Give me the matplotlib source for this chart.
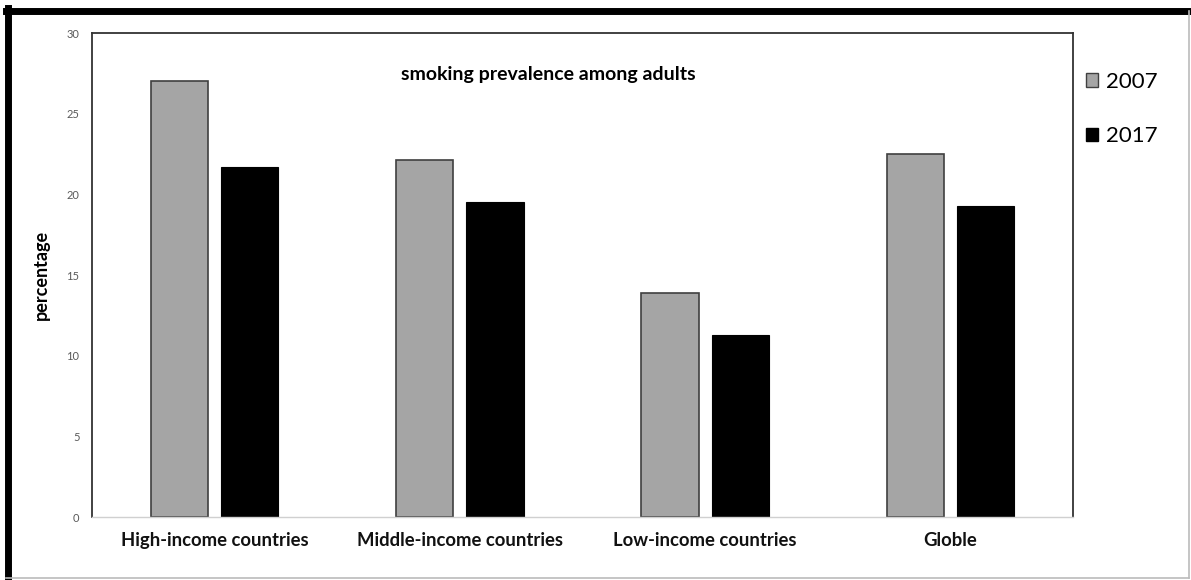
import matplotlib
matplotlib.use("Agg")
import matplotlib.pyplot as plt
import matplotlib.transforms as mtransforms
import numpy as np
from matplotlib.lines import Line2D
from matplotlib.patches import Patch

categories = ["High-income countries", "Middle-income countries", "Low-income countries", "Globle"]
series_names = ["2007", "2017"]
values_2007 = [27.0, 22.1, 13.9, 22.5]
values_2017 = [21.7, 19.5, 11.3, 19.3]
yticks = [0, 5, 10, 15, 20, 25, 30]

plt.rcParams['font.family'] = ['Lato', 'DejaVu Sans']

fig = plt.figure(figsize=(11.91, 5.80), dpi=100)
ax = fig.add_axes([92/1191, 1-517/580, (1073-92)/1191, (517-33)/580])

x = np.arange(len(categories))
w = 0.233
off = 0.143
ax.bar(x - off, values_2007, width=w, color="#a5a5a5", edgecolor="#404040", linewidth=1.2, label=series_names[0])
ax.bar(x + off, values_2017, width=w, color="#000000", edgecolor="#000000", linewidth=0.8, label=series_names[1])

ax.set_xlim(-0.5, len(categories) - 0.5)
ax.set_ylim(0, 30)
ax.set_yticks(yticks)
ax.set_yticklabels([str(t) for t in yticks], fontsize=8, color="#595959")
ax.tick_params(axis='y', length=0, pad=9)
ax.set_xticks(x)
ax.set_xticklabels(categories, fontsize=13.3, fontweight='bold', color="#111111")
ax.tick_params(axis='x', length=0, pad=11)

for s in ['left', 'top', 'right']:
    ax.spines[s].set_color("#333333")
    ax.spines[s].set_linewidth(1.3)
ax.spines['bottom'].set_color("#d0d0d0")
ax.spines['bottom'].set_linewidth(1.0)

ax.set_ylabel("percentage", fontsize=13, fontweight='bold', labelpad=12)
trans = mtransforms.blended_transform_factory(ax.transAxes, ax.transData)
ax.text(0.465, 27.4, "smoking prevalence among adults", fontsize=14, fontweight='bold',
        ha='center', va='center', transform=trans)

handles = [Patch(facecolor="#a5a5a5", edgecolor="#404040", linewidth=1.0),
           Patch(facecolor="#000000", edgecolor="#000000")]
leg = fig.legend(handles, series_names, loc='upper left', bbox_to_anchor=(1066/1191, 1-52/580),
                 frameon=False, fontsize=16, handlelength=0.55, handleheight=0.55,
                 handletextpad=0.35, labelspacing=1.55)

# outer frame
fig.add_artist(Line2D([8/1191, 8/1191], [2/580, 1-8/580], transform=fig.transFigure, color='black', lw=5))
fig.add_artist(Line2D([6/1191, 1191/1191], [1-11/580, 1-11/580], transform=fig.transFigure, color='black', lw=5))
fig.add_artist(Line2D([1189/1191, 1189/1191], [2/580, 1-11/580], transform=fig.transFigure, color='#bbbbbb', lw=1.2))
fig.add_artist(Line2D([6/1191, 1189/1191], [2/580, 2/580], transform=fig.transFigure, color='#bbbbbb', lw=1.2))

fig.savefig("out.png", dpi=100)
